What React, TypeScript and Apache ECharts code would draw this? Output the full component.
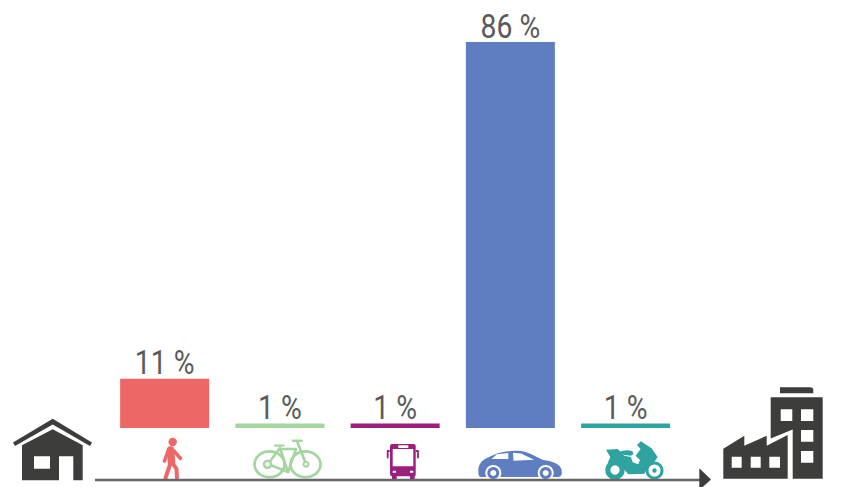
import React, { useEffect, useRef } from "react";
import * as echarts from "echarts";

const categories = ["Walking", "Bicycle", "Bus", "Car", "Motorcycle"];
const shares = [11, 1, 1, 86, 1];
const colors = ["#EE6666", "#A5D5A0", "#9B1F7C", "#5F7EC1", "#2FA3A0"];
const DARK = "#3D3D3B";

const shapes: Record<string, string> = {
  houseRoof: "M52.7 418.7 L92 442.5 L90 446 L52.7 424.5 L15 446 L13 442.5 Z",
  houseBody: "M52.7 429.3 L82.7 445.3 V480.3 H73.3 V456.3 H59 V480.3 H22 V445.3 Z M34 456.3 V468.7 H50 V456.3 Z",
  factory:
    "M723.3 448.7 L744.3 435.7 V445.7 L766.7 435.7 V445.7 L787.7 435 V478.7 H723.3 Z " +
    "M731.7 456.7 V467.7 H741.7 V456.7 Z M750.7 456.7 V467.7 H760.7 V456.7 Z M769.3 456.7 V467.7 H780 V456.7 Z",
  tower:
    "M770.7 397.3 H822.7 V478.7 H792.7 V429.5 L770.7 438.5 Z " +
    "M780.7 409.3 V421 H792.3 V409.3 Z M801 409.3 V421 H813.3 V409.3 Z M801 430 V441.7 H813.3 V430 Z M801 451 V462.7 H813.3 V451 Z",
  towerCap: "M780 387.3 H810 Q813.3 387.3 813.3 390 V393.3 H780 Z",
  bus:
    "M392 444 H413.7 Q415.7 444 415.7 446 V474 Q415.7 476.3 414.7 476.3 V479.3 H410 V476.3 H396.7 V479.3 H392 V476.3 Q390 476.3 390 474 V446 Q390 444 392 444 Z " +
    "M392.7 449 V466.3 H413.3 V449 Z M398.3 445.3 V448 H408.3 V445.3 Z M392.7 470.7 V472.7 H396 V470.7 Z M410 470.7 V472.7 H413.3 V470.7 Z",
  car:
    "M478.5 474 C477.5 465 481 460.5 488 457.5 C498 452.5 508 450.5 518 450.8 C527 451.2 535 456 543 460 C552 461 560 463.5 561.7 470 L561.7 474 Q561 477 558 477 H481 Q478.7 477 478.5 474 Z " +
    "M491.5 459 H508.3 V453 L497 454.3 Z M513.5 460.7 L534 459.7 L521 453.5 L513 452.7 Z",
  scooterBody:
    "M33 44 L68 42 L88 62 L108 66 L113 82 L135 92 L152 88 L158 95 L146 116 L100 118 L76 90 L52 80 L38 84 L46 66 Z",
  scooterSeat: "M72 52 Q90 42 113 49 L115 58 L108 62 L88 60 Z",
  scooterRider:
    "M126 30 L138 19 L150 27 L170 40 L188 66 L176 84 L166 88 L180 106 L172 110 L160 95 L148 116 L118 116 L112 82 L130 88 L135 75 L122 62 L137 42 Z",
};
Object.entries(shapes).forEach(([name, d]) => {
  echarts.graphic.registerShape(name, echarts.graphic.extendPath(d, {}));
});

const fill = (type: string, color: string) => ({ type, x: 0, y: 0, silent: true, style: { fill: color } });
const z3 = (type: string, color: string, x: number, y: number) => ({
  type, x, y, scaleX: 1 / 3, scaleY: 1 / 3, silent: true, style: { fill: color },
});
const circle = (cx: number, cy: number, r: number, style: any) => ({ type: "circle", shape: { cx, cy, r }, silent: true, style });
const ellipse = (cx: number, cy: number, rx: number, ry: number, style: any) => ({ type: "ellipse", shape: { cx, cy, rx, ry }, silent: true, style });
const stroke = (points: number[][], color: string, lineWidth: number) => ({
  type: "polyline", shape: { points }, silent: true,
  style: { stroke: color, lineWidth, fill: "none", lineCap: "round", lineJoin: "round" },
});

const [red, green, purple, blue, teal] = colors;

const graphics: any[] = [
  // Home and workplace
  fill("houseRoof", DARK), fill("houseBody", DARK),
  fill("factory", DARK), fill("tower", DARK), fill("towerCap", DARK),
  // Walker
  circle(172.7, 442, 4.2, { fill: red }),
  stroke([[170.5, 450], [171.5, 462]], red, 7.5),
  stroke([[168, 451], [164.5, 461]], red, 3.5),
  stroke([[174, 451], [180.5, 458.5]], red, 3.5),
  stroke([[170.5, 463], [165.5, 478]], red, 4),
  stroke([[172.5, 463], [176.5, 469], [177, 478]], red, 4),
  // Bicycle
  ellipse(269.5, 464.3, 15, 12.9, { fill: "none", stroke: green, lineWidth: 2.7 }),
  ellipse(305.5, 464.3, 15, 12.9, { fill: "none", stroke: green, lineWidth: 2.7 }),
  stroke([[268, 464], [280, 448], [288, 472], [268, 464]], green, 2.6),
  stroke([[288, 472], [296, 449], [280, 449]], green, 2.6),
  stroke([[297, 441], [306, 464]], green, 2.6),
  stroke([[275, 445.7], [283.5, 445.7]], green, 2.2),
  stroke([[293, 440.7], [301.7, 440.7]], green, 2.6),
  circle(267.5, 464.3, 3.5, { fill: "#fff", stroke: green, lineWidth: 2.5 }),
  circle(306, 464.3, 2.5, { fill: "#fff", stroke: green, lineWidth: 2 }),
  // Bus
  fill("bus", purple),
  stroke([[389, 451], [387.7, 451], [387.7, 457.5]], purple, 1.8),
  stroke([[416.5, 451], [418, 451], [418, 457.5]], purple, 1.8),
  // Car
  fill("car", blue),
  circle(493.3, 473, 8, { fill: "#fff" }),
  circle(545.7, 473, 8, { fill: "#fff" }),
  circle(493.3, 473, 6, { fill: blue }),
  circle(545.7, 473, 6, { fill: blue }),
  circle(493.3, 473, 3, { fill: "#fff" }),
  circle(545.7, 473, 3, { fill: "#fff" }),
  // Scooter
  z3("scooterBody", teal, 595, 435),
  z3("scooterSeat", teal, 595, 435),
  z3("scooterRider", teal, 595, 435),
  circle(615, 470, 7.2, { fill: "#fff", stroke: teal, lineWidth: 5 }),
  circle(654.5, 470.5, 7.5, { fill: "#fff", stroke: teal, lineWidth: 3 }),
  circle(654.5, 470.5, 2.2, { fill: teal }),
  // Route arrow
  { type: "line", shape: { x1: 95, y1: 480, x2: 702, y2: 480 }, silent: true, style: { stroke: "#666666", lineWidth: 2.5 } },
  { type: "polygon", shape: { points: [[699.3, 468.3], [711, 479.6], [699.3, 490]] }, silent: true, style: { fill: DARK } },
];

export default function App() {
  const ref = useRef<HTMLDivElement>(null);
  useEffect(() => {
    const chart = echarts.init(ref.current!, undefined, { renderer: "svg" });
    chart.setOption({
      animation: false,
      backgroundColor: "#ffffff",
      grid: { left: 107, top: 42, width: 576.25, height: 386 },
      xAxis: { type: "category", data: categories, show: false },
      yAxis: { type: "value", min: 0, max: 86, show: false },
      series: [
        {
          type: "bar",
          barWidth: 89,
          data: shares.map((value, i) => ({ value, itemStyle: { color: colors[i] } })),
        },
        {
          // Narrowed value labels, standing on the bars
          type: "custom",
          data: shares.map((value, i) => [i, value]),
          encode: { x: 0, y: 1 },
          clip: false,
          renderItem: (_params: any, api: any) => {
            const [x, y] = api.coord([api.value(0), api.value(1)]);
            return {
              type: "text",
              x,
              y: y + 1,
              scaleX: 0.86,
              style: {
                text: `${api.value(1)} %`,
                x: 0,
                y: 0,
                textAlign: "center",
                textVerticalAlign: "bottom",
                fontFamily: "Roboto",
                fontSize: 33,
                fontWeight: 400,
                fill: "#5A5A5A",
              },
            };
          },
        },
      ],
      graphic: { elements: graphics },
    });
    return () => chart.dispose();
  }, []);
  return <div ref={ref} style={{ position: "fixed", left: 0, top: 0, width: 844, height: 487 }} />;
}
